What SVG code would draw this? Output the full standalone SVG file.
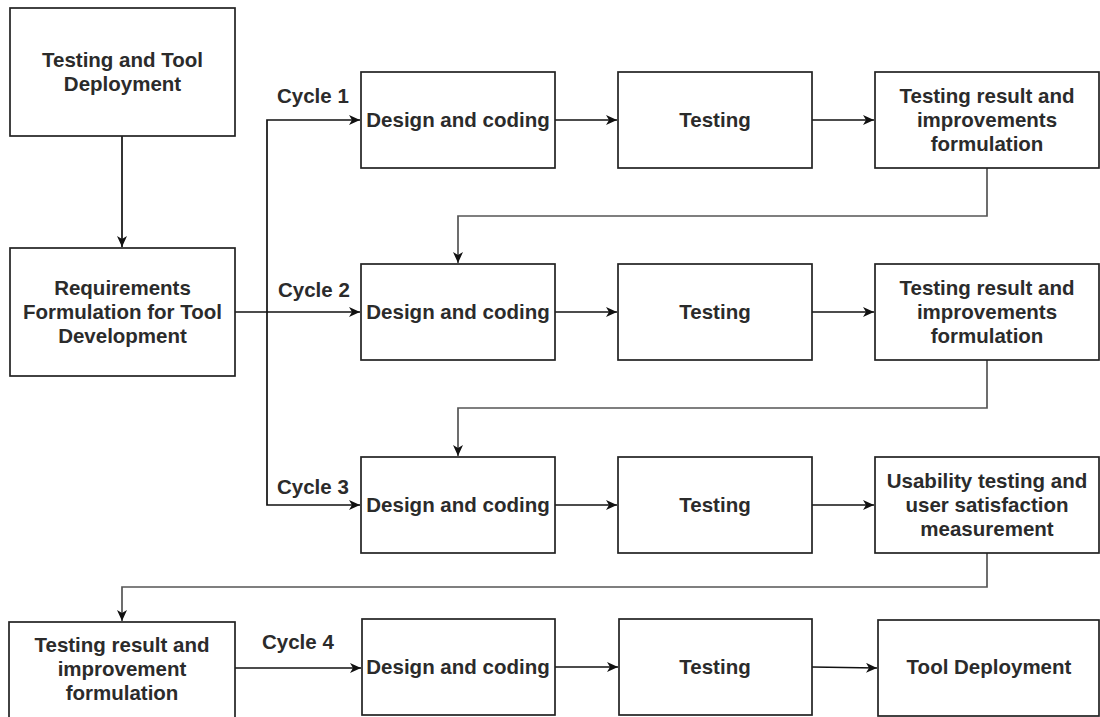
<svg xmlns="http://www.w3.org/2000/svg" width="1100" height="717" viewBox="0 0 1100 717">
<defs>
<style>
.box{fill:#fff;stroke:#222;stroke-width:1.7}
.t{font-family:"Liberation Sans",Arial,sans-serif;font-weight:bold;font-size:20.5px;fill:#2b2b2b;text-anchor:middle}
.lbl{font-family:"Liberation Sans",Arial,sans-serif;font-weight:bold;font-size:20.5px;fill:#2b2b2b}
.c{fill:none;stroke:#111;stroke-width:1.7;marker-end:url(#ah)}
.g{fill:none;stroke:#555;stroke-width:1.7;marker-end:url(#ah)}
</style>
<marker id="ah" markerUnits="userSpaceOnUse" markerWidth="12" markerHeight="10" refX="11" refY="5" orient="auto">
<path d="M0,0 L11,5 L0,10 L3,5 Z" fill="#111"/>
</marker>
</defs>
<rect width="1100" height="717" fill="#fff"/>
<g id="connectors">
<path class="c" d="M122,136 L122,247"/>
<path class="c" d="M267,312 L267,120 L360,120"/>
<path class="c" d="M235,312 L360,312"/>
<path class="c" d="M267,312 L267,505 L360,505"/>
<path class="c" d="M555,120 L617,120"/>
<path class="c" d="M812,120 L874,120"/>
<path class="c" d="M555,312 L617,312"/>
<path class="c" d="M812,312 L874,312"/>
<path class="c" d="M555,505 L617,505"/>
<path class="c" d="M812,505 L874,505"/>
<path class="g" d="M987,168 L987,216 L458,216 L458,263"/>
<path class="g" d="M987,360 L987,408 L458,408 L458,456"/>
<path class="g" d="M987,553 L987,587 L122,587 L122,621"/>
<path class="c" d="M235,668 L361,668"/>
<path class="c" d="M555,667 L618,667"/>
<path class="c" d="M812,667 L877,668"/>
</g>
<g id="labels">
<text class="lbl" x="277" y="103">Cycle 1</text>
<text class="lbl" x="278" y="297">Cycle 2</text>
<text class="lbl" x="277" y="494">Cycle 3</text>
<text class="lbl" x="262" y="649">Cycle 4</text>
</g>
<g id="n-testing-deploy">
<rect class="box" x="10" y="8" width="225" height="128"/>
<text class="t" x="122.5" y="67">Testing and Tool</text>
<text class="t" x="122.5" y="91">Deployment</text>
</g>
<g id="n-requirements">
<rect class="box" x="10" y="248" width="225" height="128"/>
<text class="t" x="122.5" y="295">Requirements</text>
<text class="t" x="122.5" y="319">Formulation for Tool</text>
<text class="t" x="122.5" y="343">Development</text>
</g>
<g id="n-design1">
<rect class="box" x="361" y="72" width="194" height="96"/>
<text class="t" x="458" y="127">Design and coding</text>
</g>
<g id="n-testing1">
<rect class="box" x="618" y="72" width="194" height="96"/>
<text class="t" x="715" y="127">Testing</text>
</g>
<g id="n-result1">
<rect class="box" x="875" y="72" width="224" height="96"/>
<text class="t" x="987" y="103">Testing result and</text>
<text class="t" x="987" y="127">improvements</text>
<text class="t" x="987" y="151">formulation</text>
</g>
<g id="n-design2">
<rect class="box" x="361" y="264" width="194" height="96"/>
<text class="t" x="458" y="319">Design and coding</text>
</g>
<g id="n-testing2">
<rect class="box" x="618" y="264" width="194" height="96"/>
<text class="t" x="715" y="319">Testing</text>
</g>
<g id="n-result2">
<rect class="box" x="875" y="264" width="224" height="96"/>
<text class="t" x="987" y="295">Testing result and</text>
<text class="t" x="987" y="319">improvements</text>
<text class="t" x="987" y="343">formulation</text>
</g>
<g id="n-design3">
<rect class="box" x="361" y="457" width="194" height="96"/>
<text class="t" x="458" y="512">Design and coding</text>
</g>
<g id="n-testing3">
<rect class="box" x="618" y="457" width="194" height="96"/>
<text class="t" x="715" y="512">Testing</text>
</g>
<g id="n-usability">
<rect class="box" x="875" y="457" width="224" height="96"/>
<text class="t" x="987" y="488">Usability testing and</text>
<text class="t" x="987" y="512">user satisfaction</text>
<text class="t" x="987" y="536">measurement</text>
</g>
<g id="n-result4">
<rect class="box" x="9" y="622" width="226" height="100"/>
<text class="t" x="122" y="652">Testing result and</text>
<text class="t" x="122" y="676">improvement</text>
<text class="t" x="122" y="700">formulation</text>
</g>
<g id="n-design4">
<rect class="box" x="362" y="619" width="193" height="96"/>
<text class="t" x="458" y="674">Design and coding</text>
</g>
<g id="n-testing4">
<rect class="box" x="619" y="619" width="193" height="96"/>
<text class="t" x="715" y="674">Testing</text>
</g>
<g id="n-tool-deploy">
<rect class="box" x="878" y="620" width="221" height="96"/>
<text class="t" x="989" y="674">Tool Deployment</text>
</g>
</svg>
